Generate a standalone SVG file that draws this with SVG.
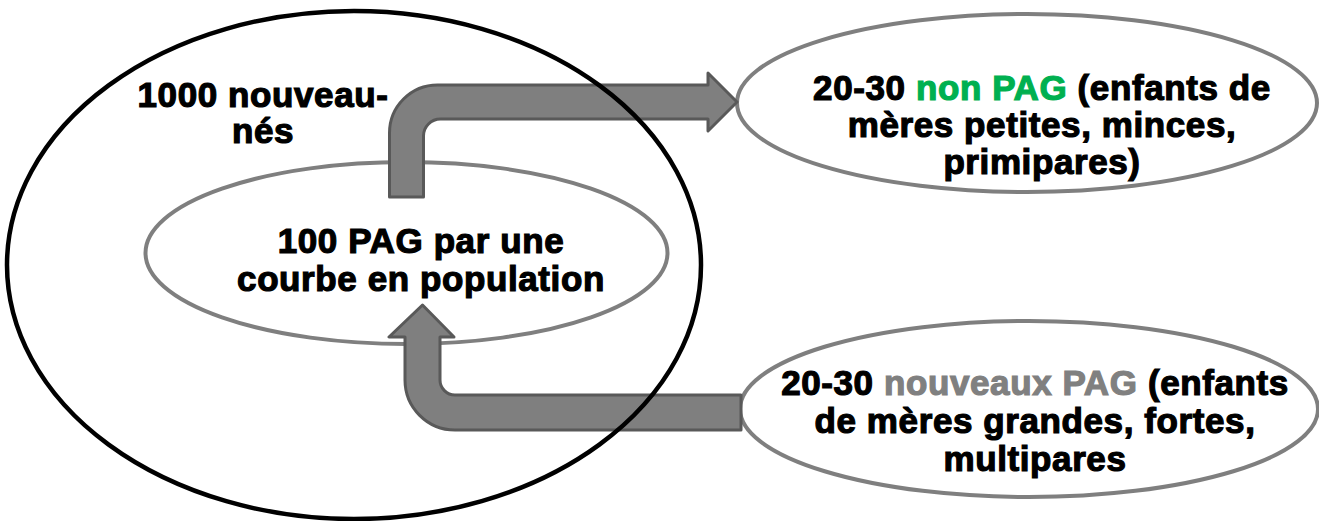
<svg xmlns="http://www.w3.org/2000/svg" width="1319" height="521" viewBox="0 0 1319 521">
<style>
.oval{fill:none;stroke:#7f7f7f;stroke-width:4}
.big{fill:none;stroke:#000;stroke-width:4.5}
.arrow{fill:#7f7f7f;stroke:#595959;stroke-width:3;stroke-linejoin:round}
.t{font-family:"Liberation Sans",Arial,sans-serif;font-weight:bold;font-size:35px;letter-spacing:0.6px;fill:#000;stroke:#000;stroke-width:1.2;text-anchor:middle}
.green{fill:#00b050;stroke:#00b050}
.gray{fill:#808080;stroke:#808080}
</style>
<rect width="1319" height="521" fill="#fff"/>
<g id="node-inner">
<ellipse class="oval" cx="406.5" cy="253" rx="261" ry="91"/>
</g>
<g id="node-nonpag">
<ellipse class="oval" cx="1027" cy="103" rx="290" ry="89"/>
</g>
<g id="node-nouveaux">
<ellipse class="oval" cx="1029" cy="409" rx="289" ry="88"/>
</g>
<g id="connectors">
<path class="arrow" d="M389.5,197 L389.5,133 A48,48 0 0 1 437.5,85 L708,85 L708,73 L737,102 L708,131 L708,119 L440.5,119 A17,17 0 0 0 423.5,136 L423.5,197 Z"/>
<path class="arrow" d="M741,395 L455,395 A15,15 0 0 1 440,380 L440,337 L454,337 L422.5,305 L389,337 L405,337 L405,380 A50,50 0 0 0 455,430 L741,430 Z"/>
</g>
<g id="node-population">
<ellipse class="big" cx="354" cy="265" rx="347" ry="254"/>
</g>
<g id="labels">
<text class="t" x="263" y="107">1000 nouveau-</text>
<text class="t" x="263" y="143">nés</text>
<text class="t" x="421" y="253">100 PAG par une</text>
<text class="t" x="421" y="291">courbe en population</text>
<text class="t" x="1042" y="100">20-30 <tspan class="green">non PAG</tspan> (enfants de</text>
<text class="t" x="1042" y="137">mères petites, minces,</text>
<text class="t" x="1042" y="174">primipares)</text>
<text class="t" x="1035" y="395">20-30 <tspan class="gray">nouveaux PAG</tspan> (enfants</text>
<text class="t" x="1035" y="433">de mères grandes, fortes,</text>
<text class="t" x="1035" y="471">multipares</text>
</g>
</svg>
